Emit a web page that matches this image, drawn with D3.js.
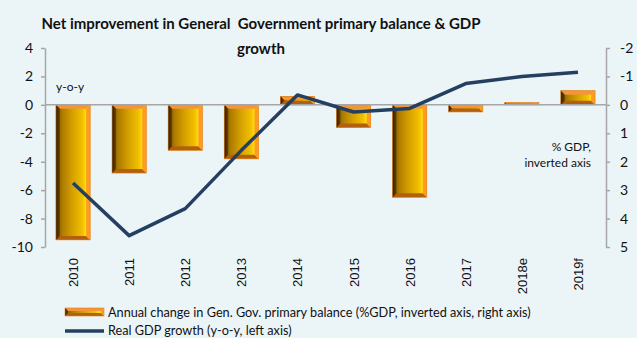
<!DOCTYPE html>
<html>
<head>
<meta charset="utf-8">
<script src="https://cdn.jsdelivr.net/npm/d3@7"></script>
<style>
  html, body { margin: 0; padding: 0; background: #ebf5f8; }
  svg { display: block; }
  text { font-family: Lato, "Liberation Sans", sans-serif; fill: #111; }
</style>
</head>
<body>
<svg id="chart" width="637" height="338"></svg>
<script>
// Years on the category axis
const categories = ['2010', '2011', '2012', '2013', '2014', '2015', '2016', '2017', '2018e', '2019f'];
// Annual change in general government primary balance, % of GDP (plotted on inverted right axis)
const balanceChange = [4.75, 2.4, 1.6, 1.9, -0.3, 0.8, 3.25, 0.25, -0.08, -0.5];
// Real GDP growth, y-o-y % (left axis)
const gdpGrowth = [-5.5, -9.2, -7.3, -3.2, 0.7, -0.5, -0.25, 1.5, 2.0, 2.3];
// Axis tick values
const leftTicks = [4, 2, 0, -2, -4, -6, -8, -10];
const rightTicks = [-2, -1, 0, 1, 2, 3, 4, 5];

const svg = d3.select('#chart');
const W = 637, H = 338;
const plot = { left: 45, right: 606, top: 48, bottom: 247 };

svg.append('rect').attr('width', W).attr('height', H).attr('fill', '#ebf5f8');

const x = d3.scaleBand().domain(categories).range([plot.left, plot.right]).paddingInner(0.39).paddingOuter(0.195);
const yL = d3.scaleLinear().domain([-10, 4]).range([plot.bottom, plot.top]);
const yR = d3.scaleLinear().domain([5, -2]).range([plot.bottom, plot.top]);

// Gradients for the bevelled gold bars
const defs = svg.append('defs');
const face = defs.append('linearGradient').attr('id', 'barFace').attr('x1', '0').attr('x2', '1').attr('y1', '0').attr('y2', '0');
[[0, '#7a5200'], [0.2, '#b07e00'], [0.5, '#d8a200'], [0.78, '#f2c000'], [0.9, '#ffe810'], [1, '#ffb818']]
  .forEach(([o, c]) => face.append('stop').attr('offset', o).attr('stop-color', c));
const leftEdge = defs.append('linearGradient').attr('id', 'barLeft').attr('x1', '0').attr('x2', '1').attr('y1', '0').attr('y2', '0');
[[0, '#2e1c00'], [1, '#6a4600']].forEach(([o, c]) => leftEdge.append('stop').attr('offset', o).attr('stop-color', c));

function bevelBar(g, bx, by, bw, bh, bev) {
  const b = Math.min(bev, bh / 2, bw / 2);
  g.append('rect').attr('x', bx).attr('y', by).attr('width', bw).attr('height', bh).attr('fill', 'url(#barFace)');
  const poly = (pts, fill) => g.append('polygon').attr('points', pts.map(p => p.join(',')).join(' ')).attr('fill', fill);
  poly([[bx, by], [bx + bw, by], [bx + bw - b, by + b], [bx + b, by + b]], '#f3963a');
  poly([[bx, by + bh], [bx + bw, by + bh], [bx + bw - b, by + bh - b], [bx + b, by + bh - b]], '#b2600e');
  poly([[bx, by], [bx + b, by + b], [bx + b, by + bh - b], [bx, by + bh]], 'url(#barLeft)');
  poly([[bx + bw, by], [bx + bw - b, by + b], [bx + bw - b, by + bh - b], [bx + bw, by + bh]], '#ff9a22');
  g.append('rect').attr('x', bx).attr('y', by).attr('width', bw).attr('height', bh)
    .attr('fill', 'none').attr('stroke', '#e07f20').attr('stroke-width', 0.6);
}

// Bars
const barsG = svg.append('g');
categories.forEach((c, i) => {
  const v = balanceChange[i];
  const y0 = yR(0), y1 = yR(v);
  bevelBar(barsG, x(c), Math.min(y0, y1), x.bandwidth(), Math.abs(y1 - y0), 4);
});

// Zero line
svg.append('line').attr('x1', plot.left).attr('x2', plot.right).attr('y1', yL(0)).attr('y2', yL(0))
  .attr('stroke', '#a6a6a6').attr('stroke-width', 1.5);

// Axes (plain hyphen-minus labels)
const fmt = d => String(d);
const axisL = svg.append('g').attr('transform', `translate(${plot.left},0)`)
  .call(d3.axisLeft(yL).tickValues(leftTicks).tickFormat(fmt).tickSize(4).tickPadding(8).tickSizeOuter(0));
const axisR = svg.append('g').attr('transform', `translate(${plot.right},0)`)
  .call(d3.axisRight(yR).tickValues(rightTicks).tickFormat(fmt).tickSize(4).tickPadding(10).tickSizeOuter(0));
[axisL, axisR].forEach(a => {
  a.select('.domain').attr('stroke', '#a6a6a6').attr('stroke-width', 1.5);
  a.selectAll('.tick line').attr('stroke', '#a6a6a6').attr('stroke-width', 1.5);
  a.selectAll('.tick text').attr('font-family', 'Lato, sans-serif').attr('font-size', 14).attr('fill', '#111');
});

// Category labels (rotated)
svg.append('g').selectAll('text').data(categories).join('text')
  .attr('transform', d => `translate(${x(d) + x.bandwidth() / 2 + 5},258) rotate(-90)`)
  .attr('text-anchor', 'end')
  .style('font-family', '"Liberation Sans", Arial, sans-serif')
  .attr('font-size', 13)
  .text(d => d);

// GDP growth line
const line = d3.line().x((d, i) => x(categories[i]) + x.bandwidth() / 2).y(d => yL(d));
svg.append('path').datum(gdpGrowth).attr('d', line)
  .attr('fill', 'none').attr('stroke', '#243f60').attr('stroke-width', 3.5).attr('stroke-linejoin', 'round');

// Title
svg.append('text').attr('x', 261).attr('y', 29).attr('text-anchor', 'middle')
  .attr('font-weight', 'bold').attr('font-size', 15).style('white-space', 'pre')
  .text('Net improvement in General  Government primary balance & GDP');
svg.append('text').attr('x', 261).attr('y', 54).attr('text-anchor', 'middle')
  .attr('font-weight', 'bold').attr('font-size', 15).text('growth');

// Axis notes
svg.append('text').attr('x', 56).attr('y', 91).attr('font-size', 12).text('y-o-y');
svg.append('text').attr('x', 591).attr('y', 151).attr('text-anchor', 'end').attr('font-size', 12).text('% GDP,');
svg.append('text').attr('x', 591).attr('y', 167).attr('text-anchor', 'end').attr('font-size', 12).text('inverted axis');

// Legend
const lg = svg.append('g');
bevelBar(lg, 65, 308, 39, 8, 3);
lg.append('text').attr('x', 108).attr('y', 317).attr('font-size', 12.7)
  .text('Annual change in Gen. Gov. primary balance (%GDP, inverted axis, right axis)');
lg.append('line').attr('x1', 65).attr('x2', 104).attr('y1', 331).attr('y2', 331)
  .attr('stroke', '#243f60').attr('stroke-width', 3.5);
lg.append('text').attr('x', 108).attr('y', 335).attr('font-size', 12.7).text('Real GDP growth (y-o-y, left axis)');
</script>
</body>
</html>
